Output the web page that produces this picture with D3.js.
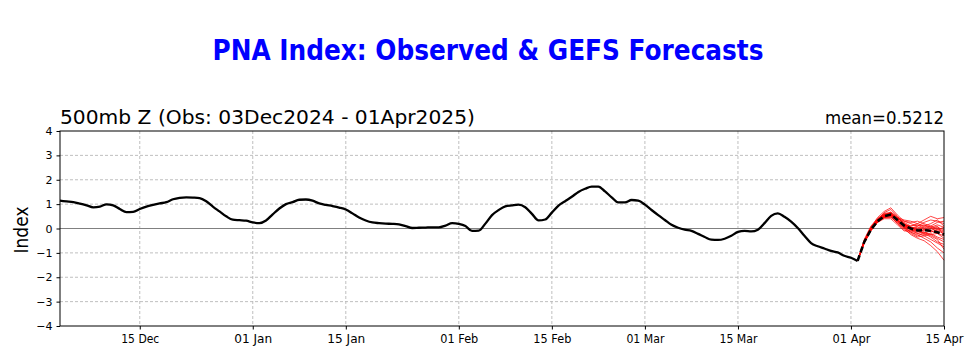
<!DOCTYPE html>
<html>
<head>
<meta charset="utf-8">
<script src="https://cdn.jsdelivr.net/npm/d3@7"></script>
<style>
  html, body { margin: 0; padding: 0; background: #fff; }
  svg { display: block; }
  text { font-family: "DejaVu Sans", sans-serif; }
</style>
</head>
<body>
<svg id="chart" width="975" height="355"></svg>
<script>
// ---------------- DATA ----------------
const startDate = "2024-12-03";
const endDate = "2025-04-15";
const xTickLabels = ["2024-12-15","2025-01-01","2025-01-15","2025-02-01","2025-02-15","2025-03-01","2025-03-15","2025-04-01","2025-04-15"];
const yTicks = [-4,-3,-2,-1,0,1,2,3,4];

// Observed PNA index, daily from 03 Dec 2024 (day 0) to 02 Apr 2025 (day 120)
const observed = [
  1.14,1.11,1.08,1.02,0.95,0.87,0.90,0.99,0.95,0.80,
  0.67,0.68,0.80,0.90,0.97,1.03,1.08,1.20,1.26,1.28,
  1.27,1.25,1.12,0.90,0.70,0.50,0.36,0.34,0.32,0.25,
  0.22,0.33,0.58,0.82,1.00,1.08,1.18,1.19,1.14,1.03,
  0.97,0.92,0.86,0.78,0.62,0.45,0.33,0.25,0.22,0.20,
  0.19,0.17,0.10,0.02,0.03,0.04,0.05,0.05,0.12,0.22,
  0.19,0.10,-0.10,-0.09,0.20,0.55,0.76,0.91,0.95,0.98,
  0.87,0.60,0.33,0.37,0.65,0.94,1.12,1.30,1.50,1.63,
  1.72,1.72,1.52,1.28,1.07,1.07,1.17,1.14,0.98,0.76,
  0.55,0.35,0.15,0.03,-0.05,-0.10,-0.22,-0.35,-0.46,-0.47,
  -0.42,-0.30,-0.14,-0.10,-0.12,-0.05,0.22,0.52,0.62,0.48,
  0.28,0.02,-0.30,-0.60,-0.73,-0.82,-0.92,-0.98,-1.12,-1.20,
  -1.33
];

// GEFS forecasts, daily from day 120 (02 Apr) to day 133 (15 Apr)
const forecastStartDay = 120;
const ensembleMean = [-1.33,-0.55,-0.05,0.30,0.50,0.57,0.35,0.12,0.00,-0.08,-0.07,-0.09,-0.15,-0.25];
const m01 = [-1.33,-0.50,0.05,0.45,0.70,0.85,0.55,0.30,0.20,0.10,0.25,0.35,0.30,0.20];
const m02 = [-1.33,-0.60,-0.10,0.25,0.45,0.50,0.20,-0.05,-0.20,-0.35,-0.30,-0.45,-0.60,-0.75];
const m03 = [-1.33,-0.55,0.00,0.35,0.55,0.65,0.45,0.20,0.05,0.00,0.10,0.05,0.15,0.05];
const m04 = [-1.33,-0.45,0.10,0.40,0.60,0.62,0.30,0.05,-0.15,-0.25,-0.40,-0.55,-0.80,-1.00];
const m05 = [-1.33,-0.60,-0.05,0.30,0.48,0.55,0.40,0.25,0.10,0.20,0.35,0.50,0.40,0.45];
const m06 = [-1.33,-0.55,-0.05,0.25,0.40,0.40,0.15,-0.10,-0.10,-0.20,-0.15,-0.25,-0.20,-0.40];
const m07 = [-1.33,-0.50,0.00,0.35,0.65,0.78,0.50,0.15,-0.05,-0.15,-0.05,0.10,0.00,-0.10];
const m08 = [-1.33,-0.58,-0.08,0.28,0.50,0.58,0.35,0.10,0.00,-0.05,-0.20,-0.35,-0.55,-0.65];
const m09 = [-1.33,-0.52,0.02,0.38,0.58,0.60,0.42,0.30,0.25,0.30,0.20,0.10,0.25,0.30];
const m10 = [-1.33,-0.56,-0.06,0.30,0.45,0.48,0.22,0.00,-0.25,-0.40,-0.50,-0.70,-0.95,-1.30];
const m11 = [-1.33,-0.54,-0.02,0.32,0.52,0.68,0.48,0.20,0.00,0.05,-0.05,-0.15,-0.05,0.05];
const m12 = [-1.33,-0.57,-0.04,0.33,0.50,0.52,0.28,0.12,0.05,-0.10,-0.25,-0.20,-0.35,-0.45];
const m13 = [-1.33,-0.53,0.03,0.36,0.56,0.60,0.38,0.05,-0.10,-0.05,0.05,0.00,-0.10,-0.20];
const m14 = [-1.33,-0.58,-0.07,0.27,0.47,0.55,0.32,0.15,0.10,0.15,0.00,-0.10,0.05,-0.05];
const m15 = [-1.33,-0.51,0.04,0.40,0.62,0.66,0.40,0.10,-0.05,-0.20,-0.30,-0.25,-0.40,-0.55];
const m16 = [-1.33,-0.55,-0.03,0.30,0.50,0.58,0.45,0.35,0.30,0.20,0.10,0.20,0.35,0.10];
const m17 = [-1.33,-0.59,-0.09,0.26,0.44,0.45,0.25,0.02,-0.15,-0.30,-0.20,-0.10,-0.20,-0.30];
const m18 = [-1.33,-0.52,0.01,0.34,0.56,0.63,0.35,0.15,-0.02,-0.10,-0.15,-0.30,-0.45,-0.85];
const m19 = [-1.33,-0.54,-0.01,0.31,0.53,0.56,0.30,0.05,0.00,0.10,0.15,0.05,-0.05,-0.15];
const m20 = [-1.33,-0.56,-0.05,0.29,0.49,0.54,0.33,0.18,0.05,-0.05,-0.10,0.00,0.10,-0.30];
const members = [m01,m02,m03,m04,m05,m06,m07,m08,m09,m10,m11,m12,m13,m14,m15,m16,m17,m18,m19,m20];

const titleText = "PNA Index: Observed & GEFS Forecasts";
const subtitleText = "500mb Z (Obs: 03Dec2024 - 01Apr2025)";
const meanText = "mean=0.5212";
const yLabel = "Index";

// ---------------- CHART ----------------
const svg = d3.select("#chart");
const L = 60, R = 944, T = 131, B = 326;
const parse = d3.utcParse("%Y-%m-%d");
const t0 = parse(startDate);
const dayDate = d => new Date(t0.getTime() + d * 86400000);

const x = d3.scaleUtc().domain([t0, parse(endDate)]).range([L, R]);
const y = d3.scaleLinear().domain([-4, 4]).range([B, T]);
const xTicks = xTickLabels.map(parse);

// grid
const grid = svg.append("g");
grid.selectAll("line.gx").data(xTicks.filter(t => x(t) < R - 1)).join("line")
  .attr("x1", d => x(d)).attr("x2", d => x(d)).attr("y1", T).attr("y2", B)
  .attr("stroke", "#b8b8b8").attr("stroke-width", 0.9).attr("stroke-dasharray", "3,2");
grid.selectAll("line.gy").data(yTicks.filter(v => v !== 0 && Math.abs(v) < 4)).join("line")
  .attr("x1", L).attr("x2", R).attr("y1", d => y(d)).attr("y2", d => y(d))
  .attr("stroke", "#b8b8b8").attr("stroke-width", 0.9).attr("stroke-dasharray", "3,2");

// zero line
svg.append("line").attr("x1", L).attr("x2", R).attr("y1", y(0)).attr("y2", y(0))
  .attr("stroke", "#808080").attr("stroke-width", 1.2);

const line = d3.line().x(d => x(d[0])).y(d => y(d[1])).curve(d3.curveMonotoneX);

// observed
svg.append("path")
  .datum(observed.map((v, i) => [dayDate(i), v]))
  .attr("d", line).attr("fill", "none").attr("stroke", "#000").attr("stroke-width", 2.3)
  .attr("stroke-linejoin", "round");

// members
const lineLin = d3.line().x(d => x(d[0])).y(d => y(d[1]));
svg.append("g").selectAll("path").data(members).join("path")
  .attr("d", m => lineLin(m.map((v, i) => [dayDate(forecastStartDay + i), v])))
  .attr("fill", "none").attr("stroke", "#ff0000").attr("stroke-width", 0.9).attr("stroke-opacity", 0.8);

// ensemble mean
svg.append("path")
  .datum(ensembleMean.map((v, i) => [dayDate(forecastStartDay + i), v]))
  .attr("d", lineLin).attr("fill", "none").attr("stroke", "#000").attr("stroke-width", 2.6)
  .attr("stroke-dasharray", "6,3");

// axes
const xAxis = d3.axisBottom(x).tickValues(xTicks).tickFormat(d3.utcFormat("%d %b")).tickSize(3.5).tickPadding(5);
const gx = svg.append("g").attr("transform", `translate(0,${B})`).call(xAxis);
gx.select(".domain").remove();
gx.selectAll("text").attr("font-size", 11.5).attr("font-family", "DejaVu Sans").attr("fill", "#000")
  .attr("textLength", 38).attr("lengthAdjust", "spacingAndGlyphs");
gx.selectAll("line").attr("stroke", "#000");

const yAxis = d3.axisLeft(y).tickValues(yTicks).tickFormat(d3.format("d")).tickSize(3.5).tickPadding(4);
const gy = svg.append("g").attr("transform", `translate(${L},0)`).call(yAxis);
gy.select(".domain").remove();
gy.selectAll("text").attr("font-size", 11).attr("font-family", "DejaVu Sans").attr("fill", "#000");
gy.selectAll("line").attr("stroke", "#000");

// frame
svg.append("rect").attr("x", L).attr("y", T).attr("width", R - L).attr("height", B - T)
  .attr("fill", "none").attr("stroke", "#000").attr("stroke-width", 1);

// titles
svg.append("text").attr("x", 488).attr("y", 60).attr("text-anchor", "middle")
  .attr("font-size", 28).attr("font-weight", "bold").attr("fill", "#0000ff")
  .attr("textLength", 551).attr("lengthAdjust", "spacingAndGlyphs").text(titleText);
svg.append("text").attr("x", 60).attr("y", 124).attr("font-size", 19.5).attr("fill", "#000")
  .attr("textLength", 415).attr("lengthAdjust", "spacingAndGlyphs").text(subtitleText);
svg.append("text").attr("x", 944).attr("y", 124).attr("text-anchor", "end").attr("font-size", 17).attr("fill", "#000")
  .attr("textLength", 119).attr("lengthAdjust", "spacingAndGlyphs").text(meanText);
svg.append("text").attr("transform", "translate(28,230) rotate(-90)").attr("text-anchor", "middle")
  .attr("font-size", 19).attr("fill", "#000")
  .attr("textLength", 47).attr("lengthAdjust", "spacingAndGlyphs").text(yLabel);
</script>
</body>
</html>
